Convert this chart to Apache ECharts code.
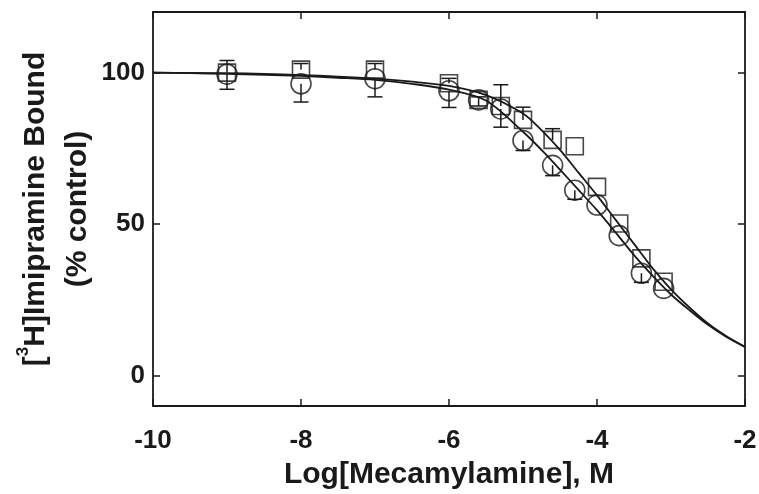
<!DOCTYPE html>
<html><head><meta charset="utf-8">
<script src="https://cdn.jsdelivr.net/npm/echarts@6/dist/echarts.min.js"></script>
<style>html,body{margin:0;padding:0;background:#fff}#c{width:759px;height:494px}</style>
</head><body><div id="c"></div>
<script>
// Data points (log concentration, % control)
const xVals = [-9, -8, -7, -6, -5.6, -5.3, -5, -4.6, -4.3, -4, -3.7, -3.4, -3.1];
const circleY = [99.5, 96.3, 98, 94, 91, 88, 77.6, 69.4, 61.2, 56.3, 46.2, 33.8, 28.8];
const circleErr = [5, 6, 6, 5.5, 2, 6, 3.3, 3.4, 3, 0, 0, 3, 0];
const squareY = [100, 101, 101, 96.5, 91, 89, 84.4, 77.8, 75.7, 62.3, 50.2, 38.7, 31];
const squareErr = [4, 2, 2, 1.6, 1, 7, 4.2, 3.7, 0, 0, 0, 0, 0];
// Fitted curves
const curveX = [-10, -9.5, -9, -8.5, -8, -7.5, -7, -6.5, -6, -5.5, -5, -4.75, -4.5, -4.25, -4, -3.75, -3.5, -3.25, -3, -2.75, -2.5, -2.25, -2];
const lowerCurve = [100, 99.8, 99.6, 99.3, 98.9, 98.3, 97.6, 96.3, 94.4, 90.8, 80.5, 74.5, 68, 61.3, 54.6, 47.3, 39.8, 33, 26.8, 21.6, 16.8, 12.8, 9.5];
const upperCurve = [100, 99.9, 99.8, 99.6, 99.2, 98.7, 98, 97, 95.6, 92.6, 86.5, 81, 74.5, 67, 59.5, 51.5, 43.5, 35.5, 28.5, 22.5, 17.2, 13, 9.5];
const xTicks = [-10, -8, -6, -4, -2];
const yTicks = [0, 50, 100];

const ink = '#1a1a1a';
const font = 'Liberation Sans, Arial, sans-serif';
const zip = (xs, ys) => xs.map((x, i) => [x, ys[i]]);

function errSeries(ys, errs, dir) {
  return {
    type: 'custom', z: 3,
    data: xVals.map((x, i) => [x, ys[i], errs[i]]),
    renderItem: function (params, api) {
      const x = api.value(0), y = api.value(1), e = api.value(2);
      if (!e) return null;
      const p0 = api.coord([x, y]);
      const p1 = api.coord([x, y + dir * e]);
      const w = 7.5;
      return {
        type: 'group',
        children: [
          { type: 'line', shape: { x1: p0[0], y1: p0[1], x2: p1[0], y2: p1[1] }, style: { stroke: ink, lineWidth: 1.5 } },
          { type: 'line', shape: { x1: p1[0] - w, y1: p1[1], x2: p1[0] + w, y2: p1[1] }, style: { stroke: ink, lineWidth: 1.5 } }
        ]
      };
    }
  };
}

const chart = echarts.init(document.getElementById('c'), null, { renderer: 'canvas' });
chart.setOption({
  animation: false,
  backgroundColor: '#fff',
  grid: { left: 153, right: 14, top: 12, bottom: 88, containLabel: false, outerBoundsMode: 'none' },
  xAxis: [{
    type: 'value', min: -10, max: -2, interval: 2,
    axisLine: { onZero: false, lineStyle: { color: ink, width: 1.8 } },
    axisTick: { inside: true, length: 7, lineStyle: { color: ink, width: 1.5 } },
    axisLabel: { color: ink, fontSize: 26, fontWeight: 'bold', fontFamily: font, margin: 22 },
    splitLine: { show: false },
    name: 'Log[Mecamylamine], M', nameLocation: 'middle', nameGap: 54,
    nameTextStyle: { color: ink, fontSize: 30, fontWeight: 'bold', fontFamily: font }
  }, {
    type: 'value', min: -10, max: -2, interval: 2, position: 'top',
    axisLine: { onZero: false, lineStyle: { color: ink, width: 1.8 } },
    axisTick: { inside: true, length: 7, lineStyle: { color: ink, width: 1.5 } },
    axisLabel: { show: false }, splitLine: { show: false }
  }],
  yAxis: [{
    type: 'value', min: -10, max: 120,
    axisLine: { onZero: false, lineStyle: { color: ink, width: 1.8 } },
    axisTick: { inside: true, length: 7, customValues: yTicks, lineStyle: { color: ink, width: 1.5 } },
    axisLabel: { customValues: yTicks, color: ink, fontSize: 26, fontWeight: 'bold', fontFamily: font, margin: 8 },
    splitLine: { show: false },
    name: '[{sup|3}H]Imipramine Bound\n(% control)', nameLocation: 'middle', nameGap: 54, nameRotate: 90,
    nameMoveOverlap: false,
    nameTextStyle: {
      color: ink, fontSize: 30, fontWeight: 'bold', fontFamily: font, lineHeight: 42, align: 'center',
      rich: { sup: { fontSize: 17, fontWeight: 'bold', fontFamily: font, color: ink, verticalAlign: 'top', lineHeight: 42, padding: [0, 0, 12, 0] } }
    }
  }, {
    type: 'value', min: -10, max: 120, position: 'right',
    axisLine: { onZero: false, lineStyle: { color: ink, width: 1.8 } },
    axisTick: { inside: true, length: 7, customValues: yTicks, lineStyle: { color: ink, width: 1.5 } },
    axisLabel: { show: false }, splitLine: { show: false }
  }],
  series: [
    { type: 'line', data: zip(curveX, lowerCurve), smooth: 0.3, showSymbol: false, lineStyle: { color: ink, width: 1.8 }, z: 2 },
    { type: 'line', data: zip(curveX, upperCurve), smooth: 0.3, showSymbol: false, lineStyle: { color: ink, width: 1.8 }, z: 2 },
    errSeries(circleY, circleErr, -1),
    errSeries(squareY, squareErr, 1),
    { type: 'scatter', data: zip(xVals, circleY), symbol: 'circle', symbolSize: 20, z: 4,
      itemStyle: { color: 'rgba(255,255,255,0)', borderColor: ink, borderWidth: 1.6 } },
    { type: 'scatter', data: zip(xVals, squareY), symbol: 'rect', symbolSize: 17, z: 4,
      itemStyle: { color: 'rgba(255,255,255,0)', borderColor: ink, borderWidth: 1.6 } }
  ]
});
</script></body></html>
